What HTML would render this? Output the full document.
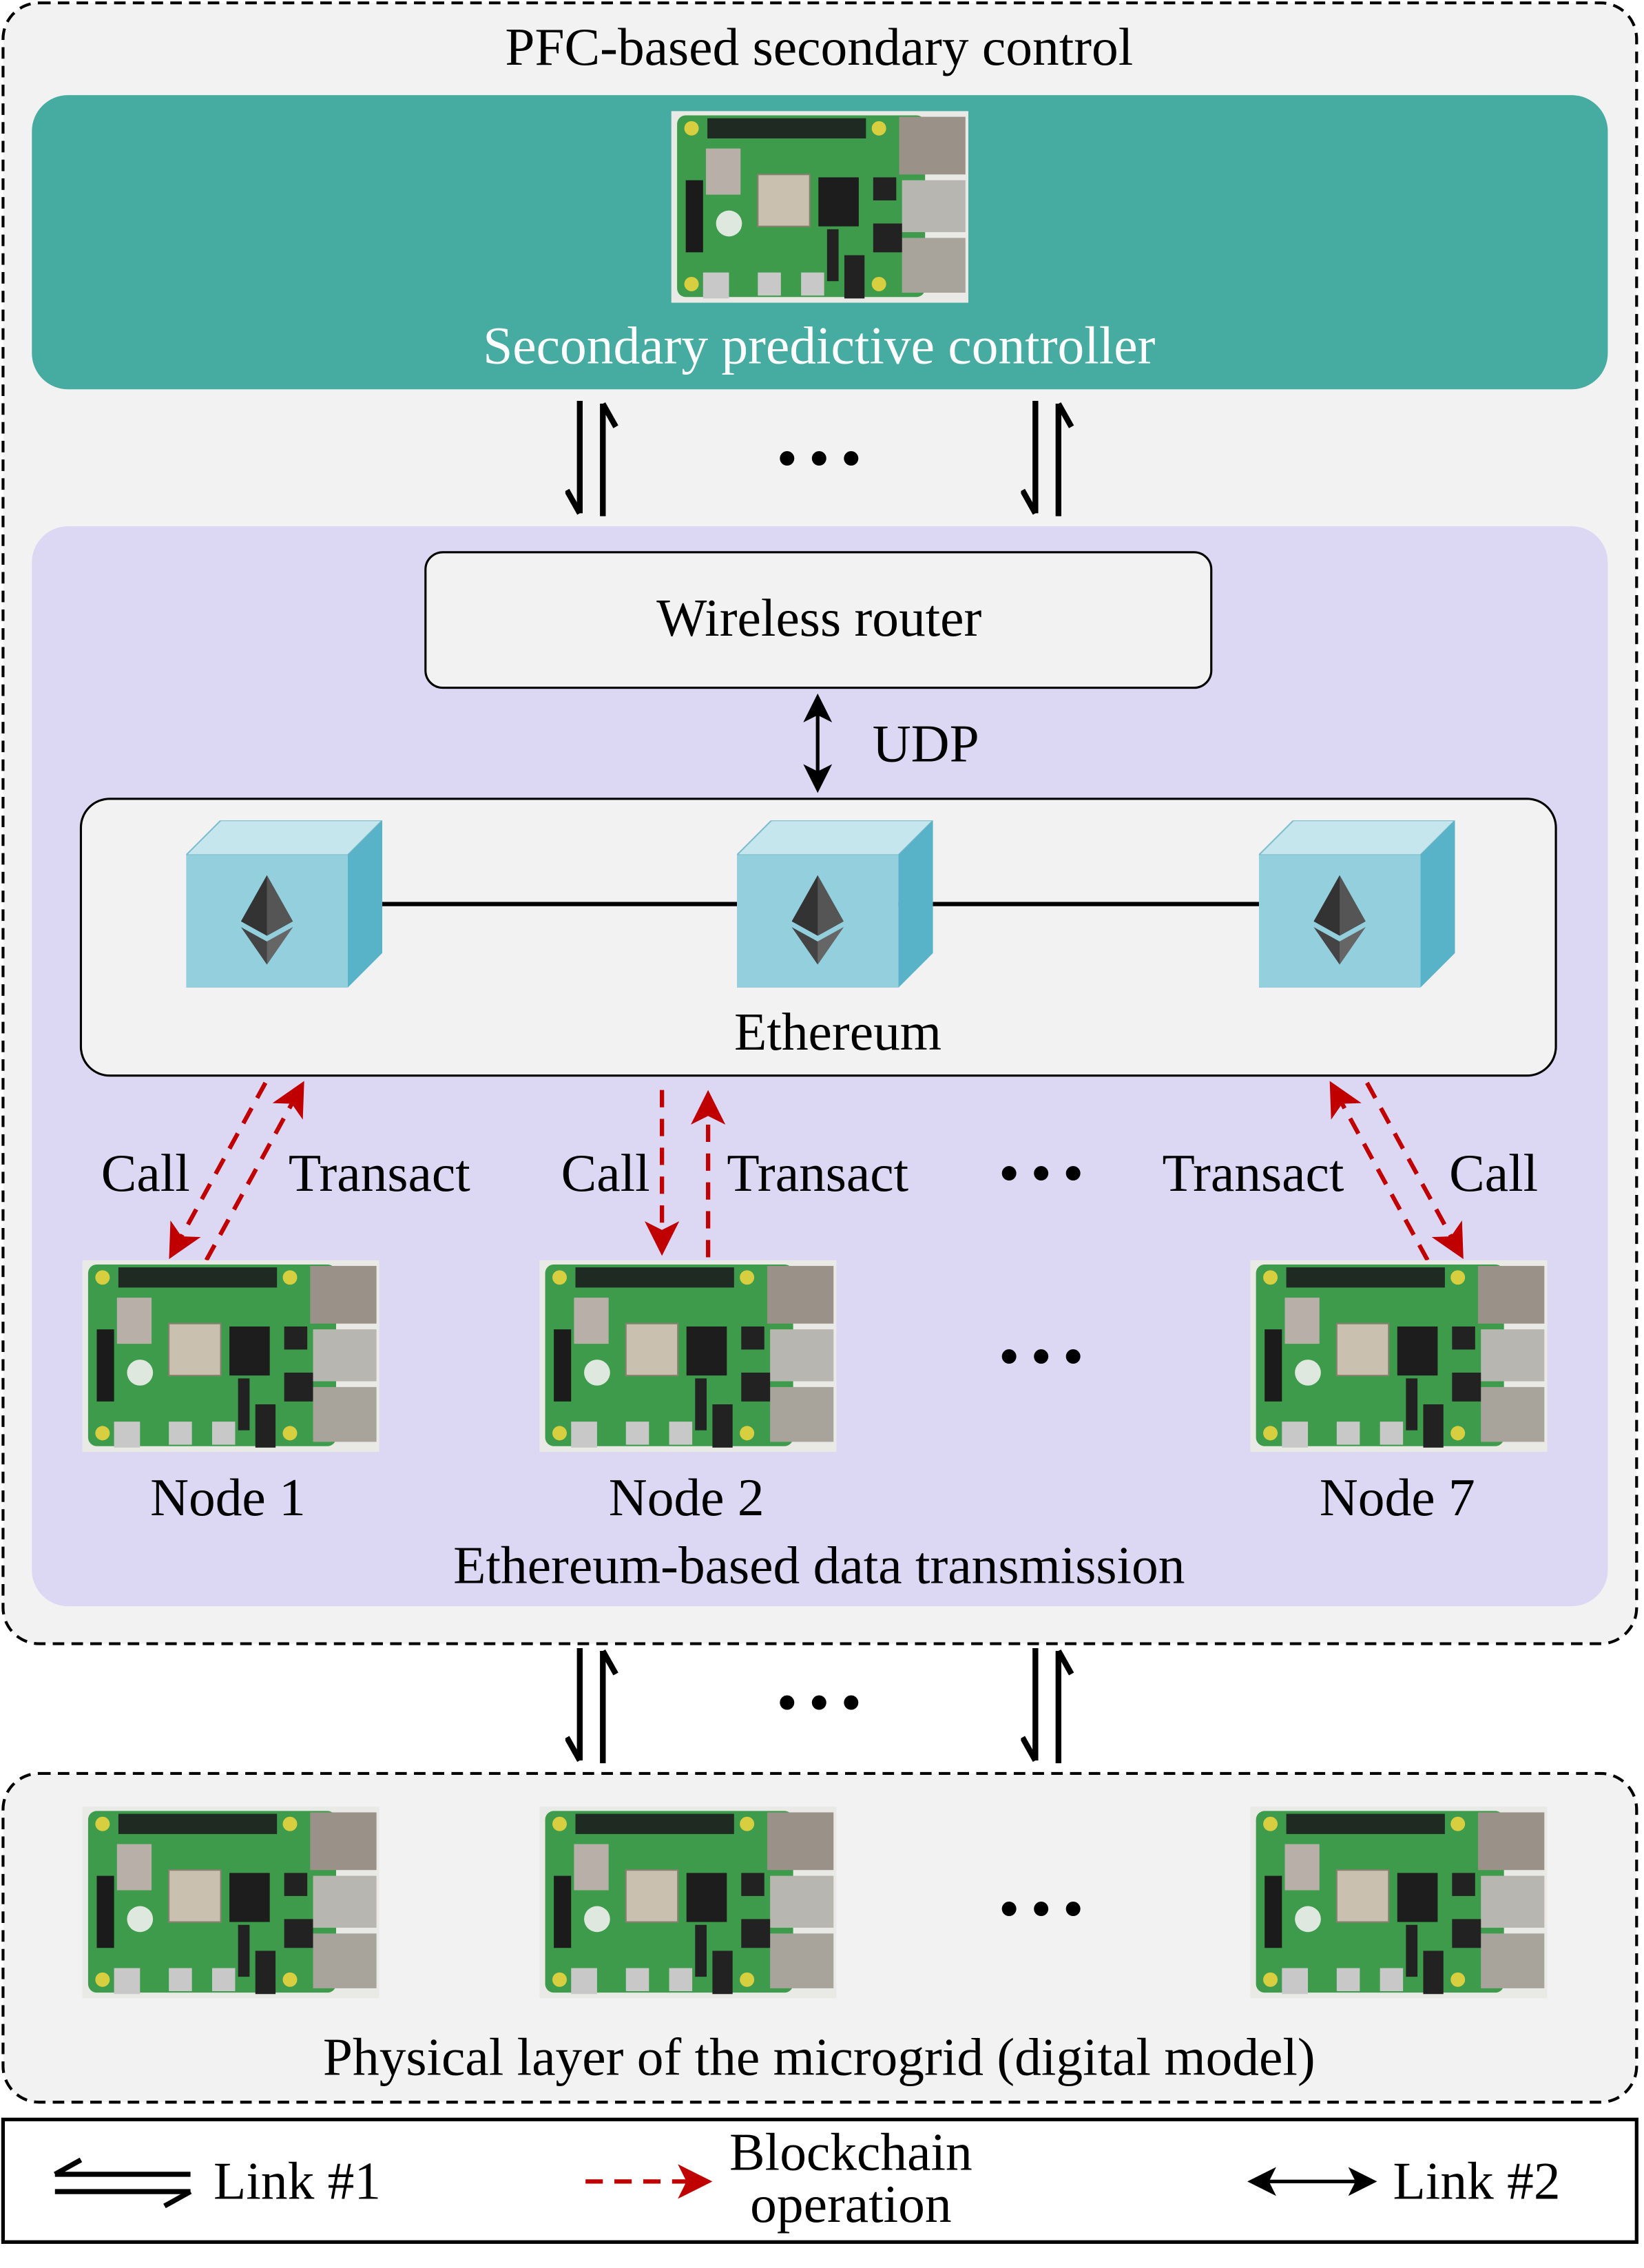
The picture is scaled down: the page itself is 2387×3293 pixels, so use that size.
<!DOCTYPE html>
<html><head><meta charset="utf-8"><style>
html,body{margin:0;padding:0;background:#fff;}
svg{display:block;}
text{font-family:"Liberation Serif",serif;fill:#000;}
</style></head><body>
<svg width="2387" height="3293" viewBox="0 0 1140 1573" xmlns="http://www.w3.org/2000/svg">
<defs>
<symbol id="pi" viewBox="0 0 206 133">
<rect x="0" y="0" width="206" height="133" fill="#e9e9e6"/>
<rect x="4" y="3" width="172" height="126" rx="6" fill="#3f9b4c"/>
<rect x="25" y="5" width="110" height="14" fill="#1e2a22"/>
<rect x="158" y="4" width="46" height="40" fill="#9a9288"/>
<rect x="160" y="48" width="44" height="36" fill="#b8b6b0"/>
<rect x="160" y="88" width="44" height="38" fill="#a8a49c"/>
<rect x="24" y="26" width="24" height="32" fill="#b8b0a8"/>
<rect x="60" y="44" width="36" height="36" fill="#c9c0b0" stroke="#8a8070"/>
<rect x="102" y="46" width="28" height="34" fill="#1d1d1d"/>
<rect x="140" y="46" width="16" height="16" fill="#222"/>
<rect x="140" y="78" width="20" height="20" fill="#222"/>
<rect x="10" y="48" width="12" height="50" fill="#1b1b1b"/>
<circle cx="40" cy="78" r="9" fill="#dfe8df"/>
<rect x="22" y="112" width="18" height="18" fill="#c8c8c8"/>
<rect x="60" y="112" width="16" height="16" fill="#c8c8c8"/>
<rect x="90" y="112" width="16" height="16" fill="#c8c8c8"/>
<rect x="120" y="100" width="14" height="30" fill="#222"/>
<rect x="108" y="82" width="8" height="36" fill="#222"/>
<circle cx="14" cy="12" r="5" fill="#d8cf40"/><circle cx="144" cy="12" r="5" fill="#d8cf40"/>
<circle cx="14" cy="120" r="5" fill="#d8cf40"/><circle cx="144" cy="120" r="5" fill="#d8cf40"/>
</symbol>
<symbol id="cube" viewBox="0 0 136 116">
<polygon points="0,24 24,0 136,0 112,24" fill="#c6e6ee" stroke="#7fbccc"/>
<polygon points="112,24 136,0 136,92 112,116" fill="#58b3c9"/>
<rect x="0" y="24" width="112" height="92" fill="#93cfdc"/>
<polygon points="56,38 38,70 56,80 74,70" fill="#333"/>
<polygon points="56,38 56,80 74,70" fill="#555"/>
<polygon points="38,74 56,100 74,74 56,84" fill="#444"/>
<polygon points="56,84 56,100 74,74" fill="#666"/>
</symbol>
<symbol id="harp" viewBox="0 0 40 80">
<path d="M10,0 V78 M10,78 L1,62" stroke="#000" stroke-width="4" fill="none"/>
<path d="M26,80 V2 M26,2 L35,18" stroke="#000" stroke-width="4" fill="none"/>
</symbol>
<marker id="ra" markerWidth="8" markerHeight="8" refX="6" refY="4" orient="auto" markerUnits="strokeWidth"><path d="M0,0 L8,4 L0,8 L2,4z" fill="#c00000"/></marker>
<marker id="ka" markerWidth="8" markerHeight="8" refX="6" refY="4" orient="auto-start-reverse" markerUnits="strokeWidth"><path d="M0,0 L8,4 L0,8 L2,4z" fill="#000"/></marker>
</defs>
<rect width="1140" height="1573" fill="#fff"/>
<rect x="2" y="2" width="1133" height="1138" rx="25" fill="#f2f2f2" stroke="#000" stroke-width="2" stroke-dasharray="8,5"/>
<text x="568" y="45" font-size="37" text-anchor="middle">PFC-based secondary control</text>
<rect x="22" y="66" width="1093" height="204" rx="25" fill="#46aba0"/>
<use href="#pi" x="465" y="77" width="207" height="133"/>
<text x="568" y="252" font-size="37" text-anchor="middle" style="fill:#fff">Secondary predictive controller</text>
<use href="#harp" x="392" y="278" width="40" height="80"/>
<use href="#harp" x="708" y="278" width="40" height="80"/>
<text x="568" y="330" font-size="37" font-weight="bold" text-anchor="middle">• • •</text>
<rect x="22" y="365" width="1093" height="749" rx="25" fill="#dcd7f3"/>
<rect x="295" y="383" width="545" height="94" rx="12" fill="#f2f2f2" stroke="#000" stroke-width="1.5"/>
<text x="568" y="441" font-size="37" text-anchor="middle">Wireless router</text>
<line x1="567" y1="486" x2="567" y2="545" stroke="#000" stroke-width="2.5" marker-start="url(#ka)" marker-end="url(#ka)"/>
<text x="605" y="528" font-size="37">UDP</text>
<rect x="56" y="554" width="1023" height="192" rx="20" fill="#f2f2f2" stroke="#000" stroke-width="1.5"/>
<line x1="250" y1="627" x2="880" y2="627" stroke="#000" stroke-width="3"/>
<use href="#cube" x="129" y="569" width="136" height="116"/>
<use href="#cube" x="511" y="569" width="136" height="116"/>
<use href="#cube" x="873" y="569" width="136" height="116"/>
<text x="581" y="728" font-size="37" text-anchor="middle">Ethereum</text>
<g stroke="#c00000" stroke-width="3" stroke-dasharray="12,8" fill="none">
<line x1="184" y1="751" x2="120" y2="868" marker-end="url(#ra)"/>
<line x1="143" y1="874" x2="208" y2="755" marker-end="url(#ra)"/>
<line x1="459" y1="756" x2="459" y2="865" marker-end="url(#ra)"/>
<line x1="491" y1="872" x2="491" y2="762" marker-end="url(#ra)"/>
<line x1="948" y1="751" x2="1012" y2="868" marker-end="url(#ra)"/>
<line x1="990" y1="874" x2="925" y2="755" marker-end="url(#ra)"/>
</g>
<g font-size="37">
<text x="70" y="826">Call</text><text x="200" y="826">Transact</text>
<text x="389" y="826">Call</text><text x="504" y="826">Transact</text>
<text x="806" y="826">Transact</text><text x="1005" y="826">Call</text>
<text x="722" y="826" font-weight="bold" text-anchor="middle">• • •</text>
<text x="722" y="953" font-weight="bold" text-anchor="middle">• • •</text>
</g>
<use href="#pi" x="57" y="874" width="206" height="133"/>
<use href="#pi" x="374" y="874" width="206" height="133"/>
<use href="#pi" x="867" y="874" width="206" height="133"/>
<g font-size="37" text-anchor="middle">
<text x="158" y="1051">Node 1</text><text x="476" y="1051">Node 2</text><text x="969" y="1051">Node 7</text>
<text x="568" y="1098">Ethereum-based data transmission</text>
</g>
<use href="#harp" x="392" y="1143" width="40" height="80"/>
<use href="#harp" x="708" y="1143" width="40" height="80"/>
<text x="568" y="1193" font-size="37" font-weight="bold" text-anchor="middle">• • •</text>
<rect x="2" y="1230" width="1133" height="228" rx="25" fill="#f2f2f2" stroke="#000" stroke-width="2" stroke-dasharray="8,5"/>
<use href="#pi" x="57" y="1253" width="206" height="133"/>
<use href="#pi" x="374" y="1253" width="206" height="133"/>
<use href="#pi" x="867" y="1253" width="206" height="133"/>
<text x="722" y="1336" font-size="37" font-weight="bold" text-anchor="middle">• • •</text>
<text x="568" y="1439" font-size="37" text-anchor="middle">Physical layer of the microgrid (digital model)</text>
<rect x="2" y="1470" width="1133" height="85" fill="#fff" stroke="#000" stroke-width="2.5"/>
<path d="M38,1508 H132 M38,1508 L56,1498 M132,1520 H38 M132,1520 L114,1530" stroke="#000" stroke-width="3.5" fill="none"/>
<text x="148" y="1525" font-size="37">Link #1</text>
<line x1="406" y1="1513" x2="488" y2="1513" stroke="#c00000" stroke-width="3" stroke-dasharray="12,8" marker-end="url(#ra)"/>
<text x="590" y="1505" font-size="37" text-anchor="middle">Blockchain</text>
<text x="590" y="1541" font-size="37" text-anchor="middle">operation</text>
<line x1="870" y1="1513" x2="950" y2="1513" stroke="#000" stroke-width="2.5" marker-start="url(#ka)" marker-end="url(#ka)"/>
<text x="966" y="1525" font-size="37">Link #2</text>
</svg>
</body></html>
